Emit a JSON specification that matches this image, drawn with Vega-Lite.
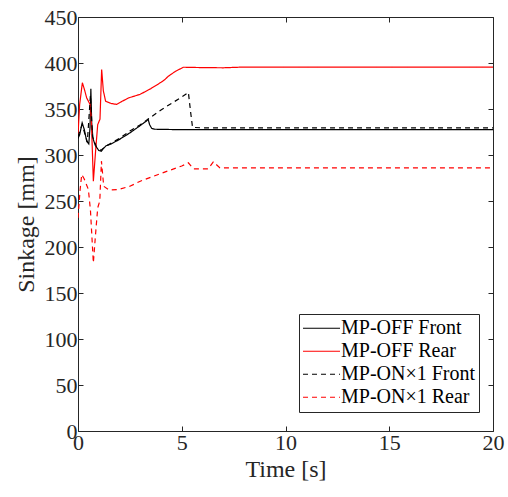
{
 "$schema": "https://vega.github.io/schema/vega-lite/v6.json",
 "width": 415, "height": 414,
 "autosize": {"type": "none"},
 "padding": {"left": 78, "top": 17, "right": 15, "bottom": 66},
 "background": "white",
 "config": {
   "view": {"stroke": null},
   "font": "Liberation Serif",
   "axis": {"grid": false, "domainColor": "#262626", "tickColor": "#262626", "labelColor": "#262626", "titleColor": "#262626", "labelFont": "Liberation Serif", "titleFont": "Liberation Serif", "labelFontSize": 22, "titleFontSize": 24, "titleFontWeight": "normal", "tickSize": -5, "domainWidth": 1, "tickWidth": 1, "labelPadding": 6, "labelFlush": false, "labelOverlap": false},
   "legend": {"labelFont": "Liberation Serif", "labelFontSize": 20, "labelColor": "#000000", "symbolType": "stroke", "symbolSize": 1369, "symbolStrokeWidth": 1.2, "fillColor": "white", "strokeColor": "#262626", "padding": 3, "rowPadding": 0, "clipHeight": 22.5, "labelOffset": 0}
 },
 "data": {"values": [
  {"series": "MP-OFF Front", "t": 0, "v": 318},
  {"series": "MP-OFF Front", "t": 0.08, "v": 322},
  {"series": "MP-OFF Front", "t": 0.2, "v": 335},
  {"series": "MP-OFF Front", "t": 0.3, "v": 328},
  {"series": "MP-OFF Front", "t": 0.42, "v": 315},
  {"series": "MP-OFF Front", "t": 0.52, "v": 312},
  {"series": "MP-OFF Front", "t": 0.58, "v": 330},
  {"series": "MP-OFF Front", "t": 0.62, "v": 372},
  {"series": "MP-OFF Front", "t": 0.66, "v": 335},
  {"series": "MP-OFF Front", "t": 0.72, "v": 318},
  {"series": "MP-OFF Front", "t": 0.84, "v": 310},
  {"series": "MP-OFF Front", "t": 1.0, "v": 305},
  {"series": "MP-OFF Front", "t": 1.12, "v": 304},
  {"series": "MP-OFF Front", "t": 1.22, "v": 307},
  {"series": "MP-OFF Front", "t": 1.35, "v": 310},
  {"series": "MP-OFF Front", "t": 1.6, "v": 312},
  {"series": "MP-OFF Front", "t": 2.0, "v": 317},
  {"series": "MP-OFF Front", "t": 2.5, "v": 324},
  {"series": "MP-OFF Front", "t": 3.0, "v": 332},
  {"series": "MP-OFF Front", "t": 3.3, "v": 337},
  {"series": "MP-OFF Front", "t": 3.38, "v": 339},
  {"series": "MP-OFF Front", "t": 3.45, "v": 333},
  {"series": "MP-OFF Front", "t": 3.55, "v": 329},
  {"series": "MP-OFF Front", "t": 3.7, "v": 328},
  {"series": "MP-OFF Front", "t": 5, "v": 327.5},
  {"series": "MP-OFF Front", "t": 10, "v": 327.5},
  {"series": "MP-OFF Front", "t": 20, "v": 327.5},

  {"series": "MP-OFF Rear", "t": 0, "v": 322},
  {"series": "MP-OFF Rear", "t": 0.08, "v": 355},
  {"series": "MP-OFF Rear", "t": 0.21, "v": 378.5},
  {"series": "MP-OFF Rear", "t": 0.3, "v": 372},
  {"series": "MP-OFF Rear", "t": 0.42, "v": 362},
  {"series": "MP-OFF Rear", "t": 0.58, "v": 355},
  {"series": "MP-OFF Rear", "t": 0.64, "v": 340},
  {"series": "MP-OFF Rear", "t": 0.74, "v": 271.5},
  {"series": "MP-OFF Rear", "t": 0.85, "v": 305},
  {"series": "MP-OFF Rear", "t": 0.95, "v": 333},
  {"series": "MP-OFF Rear", "t": 1.06, "v": 339},
  {"series": "MP-OFF Rear", "t": 1.14, "v": 393},
  {"series": "MP-OFF Rear", "t": 1.22, "v": 370},
  {"series": "MP-OFF Rear", "t": 1.33, "v": 358.5},
  {"series": "MP-OFF Rear", "t": 1.6, "v": 356},
  {"series": "MP-OFF Rear", "t": 1.86, "v": 355},
  {"series": "MP-OFF Rear", "t": 2.1, "v": 358},
  {"series": "MP-OFF Rear", "t": 2.43, "v": 362},
  {"series": "MP-OFF Rear", "t": 3.0, "v": 366},
  {"series": "MP-OFF Rear", "t": 3.5, "v": 372},
  {"series": "MP-OFF Rear", "t": 4.0, "v": 379},
  {"series": "MP-OFF Rear", "t": 4.19, "v": 382},
  {"series": "MP-OFF Rear", "t": 4.35, "v": 385.6},
  {"series": "MP-OFF Rear", "t": 4.7, "v": 391},
  {"series": "MP-OFF Rear", "t": 5.08, "v": 395.4},
  {"series": "MP-OFF Rear", "t": 6, "v": 395},
  {"series": "MP-OFF Rear", "t": 7, "v": 394.8},
  {"series": "MP-OFF Rear", "t": 8, "v": 395.6},
  {"series": "MP-OFF Rear", "t": 10, "v": 395.5},
  {"series": "MP-OFF Rear", "t": 20, "v": 395.5},

  {"series": "MP-ON×1 Front", "t": 0, "v": 320},
  {"series": "MP-ON×1 Front", "t": 0.2, "v": 333},
  {"series": "MP-ON×1 Front", "t": 0.45, "v": 314},
  {"series": "MP-ON×1 Front", "t": 0.6, "v": 365},
  {"series": "MP-ON×1 Front", "t": 0.7, "v": 320},
  {"series": "MP-ON×1 Front", "t": 0.9, "v": 308},
  {"series": "MP-ON×1 Front", "t": 1.1, "v": 305},
  {"series": "MP-ON×1 Front", "t": 1.3, "v": 309},
  {"series": "MP-ON×1 Front", "t": 2.0, "v": 318},
  {"series": "MP-ON×1 Front", "t": 2.5, "v": 326},
  {"series": "MP-ON×1 Front", "t": 3.0, "v": 333},
  {"series": "MP-ON×1 Front", "t": 3.5, "v": 341},
  {"series": "MP-ON×1 Front", "t": 4.0, "v": 349},
  {"series": "MP-ON×1 Front", "t": 4.5, "v": 356},
  {"series": "MP-ON×1 Front", "t": 5.0, "v": 363},
  {"series": "MP-ON×1 Front", "t": 5.32, "v": 368},
  {"series": "MP-ON×1 Front", "t": 5.42, "v": 348},
  {"series": "MP-ON×1 Front", "t": 5.52, "v": 330},
  {"series": "MP-ON×1 Front", "t": 6, "v": 329.5},
  {"series": "MP-ON×1 Front", "t": 20, "v": 329.5},

  {"series": "MP-ON×1 Rear", "t": 0, "v": 231.7},
  {"series": "MP-ON×1 Rear", "t": 0.1, "v": 262},
  {"series": "MP-ON×1 Rear", "t": 0.18, "v": 278.8},
  {"series": "MP-ON×1 Rear", "t": 0.3, "v": 274},
  {"series": "MP-ON×1 Rear", "t": 0.5, "v": 262.5},
  {"series": "MP-ON×1 Rear", "t": 0.6, "v": 240},
  {"series": "MP-ON×1 Rear", "t": 0.74, "v": 182.8},
  {"series": "MP-ON×1 Rear", "t": 0.85, "v": 215},
  {"series": "MP-ON×1 Rear", "t": 0.95, "v": 242.6},
  {"series": "MP-ON×1 Rear", "t": 1.05, "v": 250},
  {"series": "MP-ON×1 Rear", "t": 1.13, "v": 293.3},
  {"series": "MP-ON×1 Rear", "t": 1.24, "v": 266},
  {"series": "MP-ON×1 Rear", "t": 1.5, "v": 262},
  {"series": "MP-ON×1 Rear", "t": 1.94, "v": 262.5},
  {"series": "MP-ON×1 Rear", "t": 2.5, "v": 266},
  {"series": "MP-ON×1 Rear", "t": 3.0, "v": 271.5},
  {"series": "MP-ON×1 Rear", "t": 4.0, "v": 280},
  {"series": "MP-ON×1 Rear", "t": 5.0, "v": 288},
  {"series": "MP-ON×1 Rear", "t": 5.32, "v": 291.5},
  {"series": "MP-ON×1 Rear", "t": 5.56, "v": 285},
  {"series": "MP-ON×1 Rear", "t": 6.28, "v": 285},
  {"series": "MP-ON×1 Rear", "t": 6.52, "v": 292.6},
  {"series": "MP-ON×1 Rear", "t": 6.84, "v": 286},
  {"series": "MP-ON×1 Rear", "t": 10, "v": 286},
  {"series": "MP-ON×1 Rear", "t": 20, "v": 286}
 ]},
 "layer": [
  {
   "mark": {"type": "line", "strokeWidth": 1.2, "clip": true},
   "encoding": {
    "x": {"field": "t", "type": "quantitative", "scale": {"domain": [0, 20], "nice": false}, "axis": {"title": "Time [s]", "values": [0, 5, 10, 15, 20], "titlePadding": 4}},
    "y": {"field": "v", "type": "quantitative", "scale": {"domain": [0, 450], "nice": false}, "axis": {"title": "Sinkage [mm]", "values": [0, 50, 100, 150, 200, 250, 300, 350, 400, 450], "titlePadding": 6}},
    "color": {"field": "series", "type": "nominal", "scale": {"domain": ["MP-OFF Front", "MP-OFF Rear", "MP-ON×1 Front", "MP-ON×1 Rear"], "range": ["#000000", "#ff0000", "#000000", "#ff0000"]}, "legend": {"title": null, "orient": "none", "legendX": 221, "legendY": 297}},
    "strokeDash": {"field": "series", "type": "nominal", "scale": {"domain": ["MP-OFF Front", "MP-OFF Rear", "MP-ON×1 Front", "MP-ON×1 Rear"], "range": [[1, 0], [1, 0], [5, 4], [5, 4]]}, "legend": {"title": null, "orient": "none", "legendX": 221, "legendY": 297}}
   }
  },
  {
   "mark": {"type": "line", "opacity": 0},
   "encoding": {
    "x": {"field": "t", "type": "quantitative", "axis": {"orient": "top", "labels": false, "title": null, "values": [0, 5, 10, 15, 20]}},
    "y": {"field": "v", "type": "quantitative", "axis": {"orient": "right", "labels": false, "title": null, "values": [0, 50, 100, 150, 200, 250, 300, 350, 400, 450]}},
    "detail": {"field": "series"}
   }
  }
 ],
 "resolve": {"axis": {"x": "independent", "y": "independent"}}
}
